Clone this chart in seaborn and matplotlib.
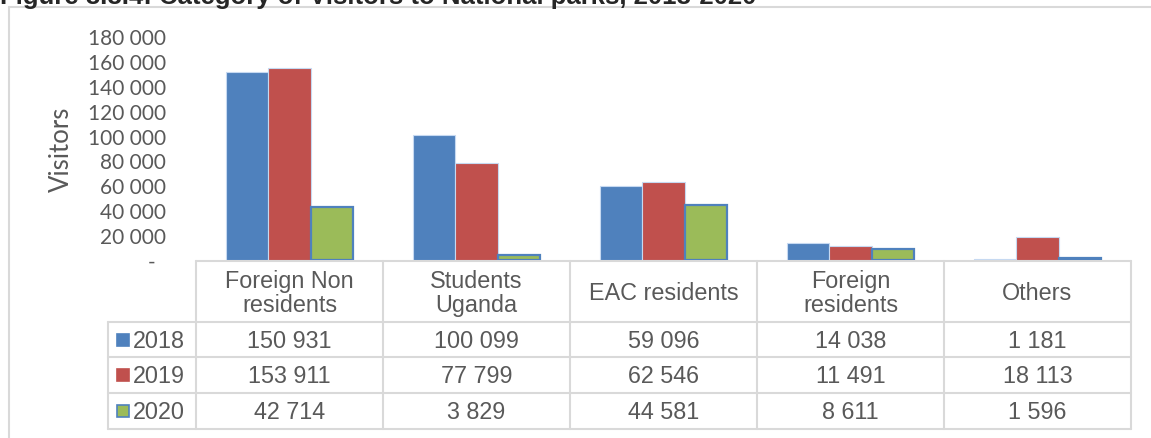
import numpy as np
import pandas as pd
import matplotlib.pyplot as plt
import seaborn as sns
from matplotlib.ticker import FuncFormatter, MultipleLocator
from matplotlib.patches import Rectangle

# data
categories = ['Foreign Non\nresidents', 'Students\nUganda', 'EAC residents', 'Foreign\nresidents', 'Others']
years = ['2018', '2019', '2020']
visitors_2018 = [150931, 100099, 59096, 14038, 1181]
visitors_2019 = [153911, 77799, 62546, 11491, 18113]
visitors_2020 = [42714, 3829, 44581, 8611, 1596]
colors = ['#4F81BD', '#C0504D', '#9BBB59']

df = pd.DataFrame({
    'category': categories * 3,
    'year': np.repeat(years, len(categories)),
    'visitors': visitors_2018 + visitors_2019 + visitors_2020,
})

sns.set_style('white')
plt.rcParams['font.family'] = ['Liberation Sans', 'DejaVu Sans']
grey = '#595959'
line_c = '#D9D9D9'

W, H = 1151, 439
fig = plt.figure(figsize=(W / 100, H / 100), dpi=100)

# overlay in pixel coords for frame + data table
bg = fig.add_axes([0, 0, 1, 1])
bg.set_xlim(0, W)
bg.set_ylim(H, 0)
bg.axis('off')

# plot area
x0, x1 = 196, 1131
y_top, y_base = 37, 261
ax = fig.add_axes([x0 / W, 1 - y_base / H, (x1 - x0) / W, (y_base - y_top) / H])
ax.patch.set_alpha(0)
sns.barplot(data=df, x='category', y='visitors', hue='year', palette=colors,
            saturation=1, width=0.675, gap=0, legend=False, ax=ax,
            edgecolor='#C6D9F1', linewidth=0.8)
for p in ax.containers[2]:
    p.set_edgecolor('#4F81BD')
    p.set_linewidth(1.6)

ax.set_ylim(0, 180000)
ax.yaxis.set_major_locator(MultipleLocator(20000))
ax.yaxis.set_major_formatter(FuncFormatter(
    lambda v, _: '-  ' if v == 0 else f'{int(v):,}'.replace(',', ' ')))
ax.tick_params(axis='y', length=0, pad=21.6, labelsize=15, labelcolor=grey)
for t in ax.get_yticklabels():
    t.set_family('Lato')
ax.set_xticks([])
ax.set_xlabel('')
ax.set_ylabel('Visitors', fontsize=18.5, color=grey, family='Lato', labelpad=10)
sns.despine(ax=ax, left=True, bottom=True)

# outer frame and title (title is clipped by the top edge, as in the source)
bg.plot([9, W], [8, 8], color=line_c, lw=1.5)
bg.plot([9, 9], [8, H], color=line_c, lw=1.5)
fig.text(0.0, 1 - 4 / H, 'Figure 8.8.4: Category of Visitors to National parks, 2018-2020',
         fontsize=18.5, fontweight='bold', va='baseline', ha='left')

# data table under the bars
n = len(categories)
cw = (x1 - x0) / n
rows = [262, 323, 358, 394, 430]
lx = 108
bg.plot([x0, x1], [rows[0], rows[0]], color=line_c, lw=1.5)
for r in rows[1:]:
    bg.plot([lx, x1], [r, r], color=line_c, lw=1.5)
for i in range(n + 1):
    xx = x0 + i * cw
    bg.plot([xx, xx], [rows[0], rows[-1]], color=line_c, lw=1.5)
bg.plot([lx, lx], [rows[1], rows[-1]], color=line_c, lw=1.5)

for i, cat in enumerate(categories):
    bg.text(x0 + (i + 0.5) * cw, (rows[0] + rows[1]) / 2 + 1, cat, ha='center', va='center',
            fontsize=16.8, color=grey, linespacing=1.05)

series = [visitors_2018, visitors_2019, visitors_2020]
for j, (yr, vals, c) in enumerate(zip(years, series, colors)):
    cy = (rows[j + 1] + rows[j + 2]) / 2
    ec = '#4F81BD' if j == 2 else c
    bg.add_patch(Rectangle((117, cy - 6), 12, 12, facecolor=c, edgecolor=ec, lw=1.2))
    bg.text(133, cy + 1, yr, ha='left', va='center', fontsize=16.8, color=grey)
    for i, v in enumerate(vals):
        bg.text(x0 + (i + 0.5) * cw, cy + 1, f'{v:,}'.replace(',', ' '),
                ha='center', va='center', fontsize=16.8, color=grey)

fig.savefig('out.png', dpi=100)
